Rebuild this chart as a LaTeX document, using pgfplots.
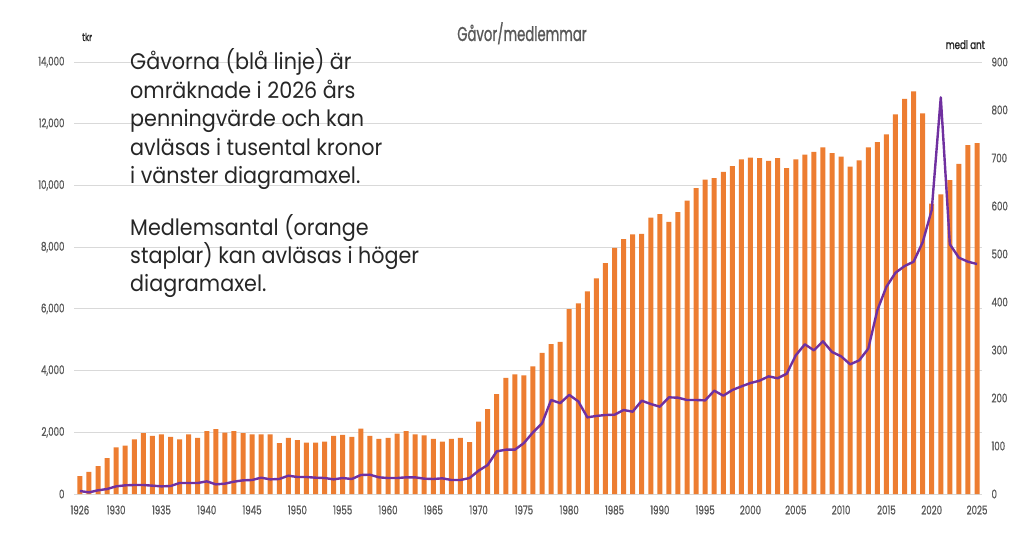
\documentclass[border=0pt]{standalone}
\usepackage{fontspec}
\usepackage{pgfplots}
\usepackage{pgfplotstable}
\pgfplotsset{compat=1.18}
\setmainfont{Poppins}
\newfontfamily\condfont[FakeStretch=0.72, FakeBold=0.9]{Poppins}
\newfontfamily\titlefont[FakeStretch=0.66, FakeBold=0.9]{Poppins}
\newfontfamily\notefont[FakeStretch=0.92]{Poppins}
\definecolor{barorange}{HTML}{ED7D31}
\definecolor{linepurple}{HTML}{7030A0}
\definecolor{gridgray}{HTML}{D9D9D9}
\definecolor{ticktext}{HTML}{595959}
\definecolor{notetext}{HTML}{262626}

\pgfplotstableread{
year members gifts
1926 37 97
1927 46 54
1928 58 119
1929 75 162
1930 97 248
1931 101 281
1932 114 292
1933 127 292
1934 121 270
1935 124 248
1936 119 259
1937 114 356
1938 124 356
1939 117 356
1940 131 410
1941 135 313
1942 128 335
1943 131 400
1944 127 443
1945 124 454
1946 124 529
1947 124 475
1948 106 486
1949 117 594
1950 112 551
1951 107 551
1952 107 529
1953 109 518
1954 121 475
1955 123 518
1956 119 486
1957 136 616
1958 121 626
1959 115 540
1960 117 518
1961 126 518
1962 131 540
1963 124 540
1964 122 497
1965 115 486
1966 109 508
1967 115 454
1968 117 454
1969 108 518
1970 151 756
1971 177 940
1972 208 1382
1973 242 1436
1974 249 1436
1975 247 1652
1976 266 1998
1977 294 2290
1978 312 3046
1979 317 2945
1980 385 3212
1981 397 3002
1982 422 2484
1983 449 2530
1984 481 2560
1985 513 2570
1986 531 2722
1987 541 2668
1988 542 3024
1989 576 2916
1990 583 2830
1991 567 3132
1992 587 3121
1993 611 3046
1994 637 3046
1995 655 3035
1996 658 3348
1997 671 3186
1998 683 3370
1999 697 3488
2000 701 3596
2001 700 3672
2002 694 3812
2003 700 3752
2004 679 3899
2005 697 4494
2006 707 4852
2007 713 4657
2008 722 4949
2009 710 4603
2010 703 4462
2011 682 4202
2012 695 4332
2013 722 4711
2014 733 5957
2015 749 6715
2016 791 7169
2017 823 7386
2018 839 7528
2019 793 8157
2020 605 9203
2021 624 12856
2022 654 8092
2023 688 7658
2024 727 7528
2025 731 7453
}\datatable

\pgfplotsset{
  base/.style={
    at={(74pt,48pt)}, anchor=south west,
    width=908pt, height=432pt, scale only axis,
    xmin=1925.35, xmax=2025.55,
    axis line style={draw=none},
    major tick length=0pt,
    tick style={draw=none},
    ticklabel style={font=\condfont\fontsize{12}{12}\selectfont, text=ticktext},
    /pgf/number format/assume math mode=true,
    scaled ticks=false,
  }
}

\begin{document}
\begin{tikzpicture}
\path[use as bounding box, fill=white] (0pt,0pt) rectangle (1024pt,542pt);

% grid + left axis + x labels
\begin{axis}[base,
  ymin=0, ymax=14000,
  ytick={0,2000,4000,6000,8000,10000,12000,14000},
  ymajorgrids, grid style={gridgray, line width=1pt},
  yticklabel style={/pgf/number format/1000 sep={,}, /pgf/number format/fixed, anchor=east, xshift=-6pt},
  xtick={1926,1930,1935,1940,1945,1950,1955,1960,1965,1970,1975,1980,1985,1990,1995,2000,2005,2010,2015,2020,2025},
  xticklabel style={/pgf/number format/1000 sep={}, anchor=north, yshift=-8pt},
]
\addplot[draw=none, forget plot] coordinates {(1926,0) (2025,0)};
\end{axis}

% bars, right axis
\begin{axis}[base,
  ymin=0, ymax=900,
  axis y line*=right, axis x line=none,
  ytick={0,100,200,300,400,500,600,700,800,900},
  yticklabel style={anchor=west, xshift=6pt},
  xtick=\empty,
]
\addplot[ybar, bar width=5pt, fill=barorange, draw=none] table[x=year, y=members] {\datatable};
\end{axis}

% line, left scale
\begin{axis}[base,
  ymin=0, ymax=14000,
  hide axis,
]
\addplot[linepurple, line width=2.4pt, no marks, line join=round] table[x=year, y=gifts] {\datatable};
\end{axis}

% texts
\node[anchor=base, text=ticktext, inner sep=0] at (522pt,501pt) {\titlefont\fontsize{20}{20}\selectfont Gåvor/medlemmar};
\node[anchor=base west, text=notetext, inner sep=0] at (82pt,501pt) {\condfont\fontsize{11}{11}\selectfont tkr};
\node[anchor=base east, text=notetext, inner sep=0] at (985pt,493pt) {\condfont\fontsize{12}{12}\selectfont medl ant};

\foreach \t [count=\i] in {Gåvorna (blå linje) är, omräknade i 2026 års, penningvärde och kan, avläsas i tusental kronor, i vänster diagramaxel.}{
  \node[anchor=base west, text=notetext, inner sep=0] at (130pt,{472.5pt-(\i-1)*28.6pt}) {\notefont\fontsize{22.5}{22.5}\selectfont \t};
}
\foreach \t [count=\i] in {Medlemsantal (orange, staplar) kan avläsas i höger, diagramaxel.}{
  \node[anchor=base west, text=notetext, inner sep=0] at (130pt,{307pt-(\i-1)*28.4pt}) {\notefont\fontsize{22.5}{22.5}\selectfont \t};
}
\end{tikzpicture}
\end{document}
